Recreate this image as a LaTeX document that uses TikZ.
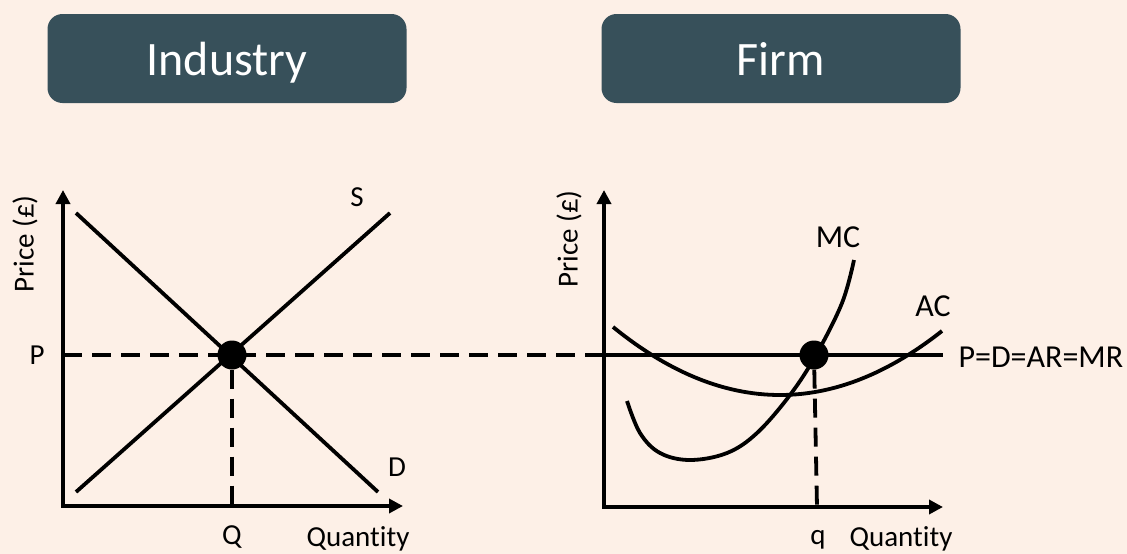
\documentclass[tikz,border=0pt]{standalone}
\usepackage{fontspec}
\setmainfont{Carlito}[Ligatures=NoCommon]
\usetikzlibrary{arrows.meta}
\definecolor{bgcream}{HTML}{FDF0E7}
\definecolor{slate}{HTML}{37505A}

\begin{document}
\begin{tikzpicture}[x=1pt, y=-1pt,
    axis/.style={line width=4pt, {Triangle[length=14pt,width=14pt]}-{Triangle[length=14pt,width=14pt]}},
    curve/.style={line width=3.8pt},
    guide/.style={line width=3.8pt, dash pattern=on 19pt off 10pt},
    eqdot/.style={circle, fill=black, inner sep=0pt, minimum size=29pt},
    header/.style={fill=slate, rounded corners=15pt, minimum width=359pt, minimum height=89pt,
        text height=36pt, text depth=3pt, text=white, font=\fontsize{48}{56}\selectfont},
    lbl/.style={font=\fontsize{29}{34}\selectfont},
    biglbl/.style={font=\fontsize{32}{38}\selectfont}]
    \fill[bgcream] (0,0) rectangle (1127,554);
    \useasboundingbox (0,0) rectangle (1127,554);

    % --- Headers ---
    \node[header] (industry) at (227,58.5) {Industry};
    \node[header] (firm) at (781,58.5) {Firm};

    % --- Industry diagram ---
    \coordinate (oI) at (63,506);
    \coordinate (yI) at (63,190);
    \coordinate (xI) at (403,506);
    \draw[axis] (yI) -- (oI) -- (xI);
    \node[lbl, rotate=90] (priceI) at (25,244) {Price (£)};
    \node[lbl, anchor=base] (quantI) at (358,546) {Quantity};
    % Supply and demand
    \coordinate (dTop) at (76,213);
    \coordinate (dEnd) at (378,492);
    \coordinate (sBot) at (76,492);
    \coordinate (sTop) at (390,213);
    \draw[curve] (dTop) -- (dEnd);
    \draw[curve] (sBot) -- (sTop);
    \node[lbl] (sLab) at (357,197) {S};
    \node[lbl] (dLab) at (397,467) {D};
    % Equilibrium
    \coordinate (pI) at (63,355);
    \coordinate (qI) at (232,506);
    \node[eqdot] (eqI) at (232,355) {};
    \node[lbl] (pLab) at (37,355) {P};
    \node[lbl, anchor=base] (qLab) at (232,544) {Q};
    \draw[guide] (eqI) -- (qI);

    % --- Firm diagram ---
    \coordinate (oF) at (604,507);
    \coordinate (yF) at (604,190);
    \coordinate (xF) at (943,507);
    \coordinate (pF) at (604,355);
    \coordinate (arEnd) at (943,355);
    \coordinate (qF) at (817,507);
    % Price line carried across from the industry
    \draw[guide] (pI) -- (pF);
    \draw[curve] (pF) -- (arEnd);
    \draw[axis] (yF) -- (oF) -- (xF);
    \node[lbl, rotate=90] (priceF) at (569,239) {Price (£)};
    \node[lbl, anchor=base] (quantF) at (901,546) {Quantity};
    % Cost curves
    \draw[curve] plot[domain=613:942, samples=60] (\x, {395-(0.0494*(\x-780))^2});
    \draw[curve] plot[smooth, tension=0.6] coordinates {(627,401) (640,433) (660,453) (690,460)
        (727,453) (757,433) (790,395) (816,355) (842,303) (854,260)};
    \node[biglbl] (mcLab) at (838,237) {MC};
    \node[biglbl] (acLab) at (933,306) {AC};
    \node[biglbl, anchor=west] (arLab) at (955,357) {P=D=AR=MR};
    % Profit maximising output
    \node[eqdot] (eqF) at (814,355) {};
    \node[lbl, anchor=base] (qfLab) at (818,544) {q};
    \draw[guide] (eqF) -- (qF);
\end{tikzpicture}
\end{document}
